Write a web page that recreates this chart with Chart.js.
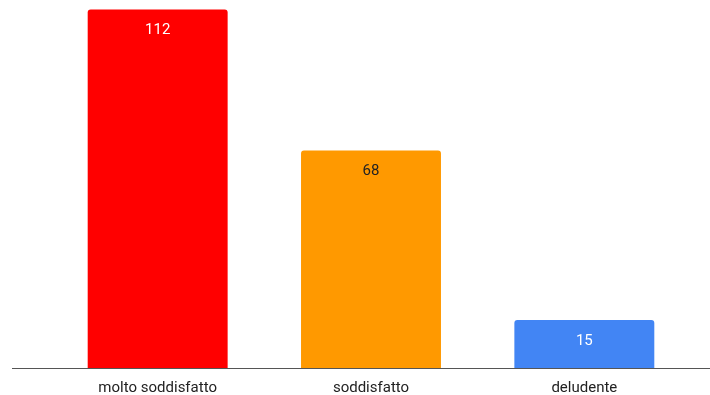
<!DOCTYPE html>
<html lang="it">
<head>
    <meta charset="UTF-8">
    <title>Soddisfazione</title>
    <script src="https://cdn.jsdelivr.net/npm/chart.js"></script>
    <style>
        * { margin: 0; padding: 0; box-sizing: border-box; }
        body { background: #fff; width: 710px; height: 395px; overflow: hidden; }
    </style>
</head>
<body>
    <canvas id="chart" width="710" height="395"></canvas>
    <script>
        // Data
        const categories = ['molto soddisfatto', 'soddisfatto', 'deludente'];
        const values = [112, 68, 15];
        const barColors = ['#ff0000', '#ff9900', '#4285f4'];
        const labelColors = ['#ffffff', '#222222', '#ffffff'];

        // Value labels inside each bar, category labels under the axis, long baseline
        const barLabels = {
            id: 'barLabels',
            afterDatasetsDraw(chart) {
                const ctx = chart.ctx;
                const meta = chart.getDatasetMeta(0);
                const xScale = chart.scales.x;
                const base = Math.round(chart.scales.y.getPixelForValue(0));
                ctx.save();
                ctx.font = '15px Roboto, sans-serif';
                ctx.textAlign = 'center';
                ctx.textBaseline = 'middle';
                meta.data.forEach((bar, i) => {
                    ctx.fillStyle = labelColors[i];
                    ctx.fillText(String(values[i]), bar.x, bar.y + 21);
                });
                ctx.fillStyle = '#222';
                categories.forEach((c, i) => {
                    ctx.fillText(c, xScale.getPixelForValue(i), base + 20);
                });
                // baseline across the whole width
                ctx.strokeStyle = '#555';
                ctx.lineWidth = 1;
                ctx.beginPath();
                ctx.moveTo(12, base + 0.5);
                ctx.lineTo(710, base + 0.5);
                ctx.stroke();
                ctx.restore();
            }
        };

        new Chart(document.getElementById('chart'), {
            type: 'bar',
            data: {
                labels: categories,
                datasets: [{
                    data: values,
                    backgroundColor: barColors,
                    borderRadius: { topLeft: 3, topRight: 3 },
                    borderSkipped: 'bottom',
                    barPercentage: 0.656,
                    categoryPercentage: 1
                }]
            },
            options: {
                responsive: false,
                animation: false,
                layout: { padding: { left: 51, right: 19, top: 0, bottom: 27 } },
                plugins: {
                    legend: { display: false },
                    tooltip: { enabled: false }
                },
                scales: {
                    x: { display: false },
                    y: { display: false, min: 0, max: 115 }
                }
            },
            plugins: [barLabels]
        });
    </script>
</body>
</html>
